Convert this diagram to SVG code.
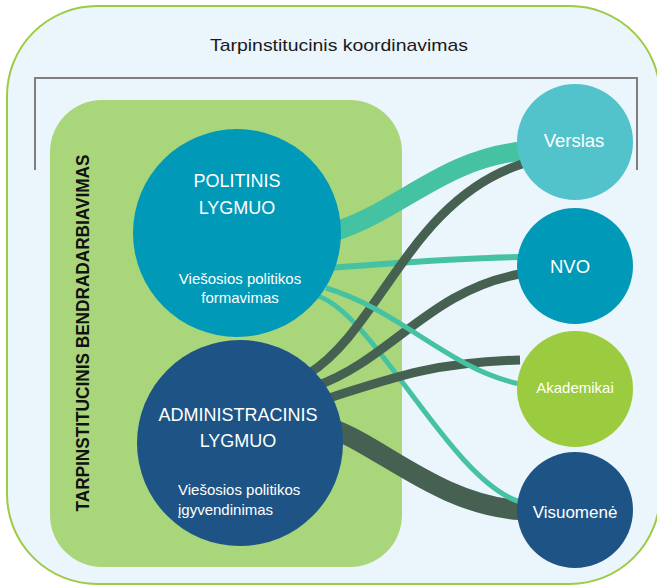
<svg xmlns="http://www.w3.org/2000/svg" width="657" height="585" viewBox="0 0 657 585">
<style>
text{font-family:"Liberation Sans",Arial,sans-serif;}
.w{fill:#ffffff;text-anchor:middle;}
.dk{fill:none;stroke:#466152;stroke-linecap:butt;}
.tl{fill:none;stroke:#45C2A2;stroke-linecap:butt;}
</style>
<rect width="657" height="585" fill="#ffffff"/>
<g id="frame">
<rect x="7" y="6" width="653" height="578" rx="90" ry="90" fill="#EBF5FC" stroke="#9DCB45" stroke-width="2"/>
<text x="339" y="51" font-size="17" fill="#1a1a1a" text-anchor="middle" textLength="258" lengthAdjust="spacingAndGlyphs">Tarpinstitucinis koordinavimas</text>
<path d="M35,170 V78 H637 V170" fill="none" stroke="#7F7F7F" stroke-width="2"/>
</g>
<g id="group-bendradarbiavimas">
<rect x="50" y="100" width="352" height="467" rx="52" ry="52" fill="#A9D57B"/>
<text transform="translate(89,333) rotate(-90)" font-size="19" font-weight="bold" fill="#111111" text-anchor="middle" textLength="357" lengthAdjust="spacingAndGlyphs">TARPINSTITUCINIS BENDRADARBIAVIMAS</text>
</g>
<g id="connectors">
<path class="dk" stroke-width="20" d="M330,428 C380,445 440,505 520,510"/>
<path class="tl" stroke-width="19" d="M330,233 C400,212 440,160 522,151"/>
<path class="tl" stroke-width="6" d="M330,268 C400,263 450,258 520,257"/>
<path class="tl" stroke-width="5" d="M318,296 C375,315 450,480 520,502"/>
<path class="dk" stroke-width="9" d="M308,374 C380,330 410,200 522,164"/>
<path class="dk" stroke-width="9" d="M316,386 C390,360 430,290 520,274"/>
<path class="dk" stroke-width="9" d="M326,399 C400,375 440,362 520,360"/>
<path class="tl" stroke-width="5" d="M326,288 C400,310 450,370 520,384"/>
</g>
<g id="node-politinis">
<circle cx="237" cy="233" r="104" fill="#0099B7"/>
<text class="w" x="237" y="187" font-size="18">POLITINIS</text>
<text class="w" x="237" y="214" font-size="18">LYGMUO</text>
<text class="w" x="240" y="284" font-size="15">Viešosios politikos</text>
<text class="w" x="240" y="303" font-size="15">formavimas</text>
</g>
<g id="node-administracinis">
<circle cx="240" cy="443" r="103" fill="#1D5485"/>
<text class="w" x="238" y="421" font-size="18">ADMINISTRACINIS</text>
<text class="w" x="238" y="447" font-size="18">LYGMUO</text>
<text x="178" y="495" font-size="15" fill="#ffffff">Viešosios politikos</text>
<text x="178" y="515" font-size="15" fill="#ffffff">įgyvendinimas</text>
</g>
<g id="node-verslas">
<circle cx="575" cy="142" r="58" fill="#52C3CA"/>
<text class="w" x="574" y="147" font-size="18.5">Verslas</text>
</g>
<g id="node-nvo">
<circle cx="575" cy="266" r="58" fill="#0099B7"/>
<text class="w" x="570" y="273" font-size="18.5">NVO</text>
</g>
<g id="node-akademikai">
<circle cx="575" cy="389" r="58" fill="#9BCB3E"/>
<text class="w" x="575" y="393" font-size="15">Akademikai</text>
</g>
<g id="node-visuomene">
<circle cx="575" cy="510" r="58" fill="#1D5485"/>
<text class="w" x="575" y="518" font-size="17">Visuomenė</text>
</g>
</svg>
